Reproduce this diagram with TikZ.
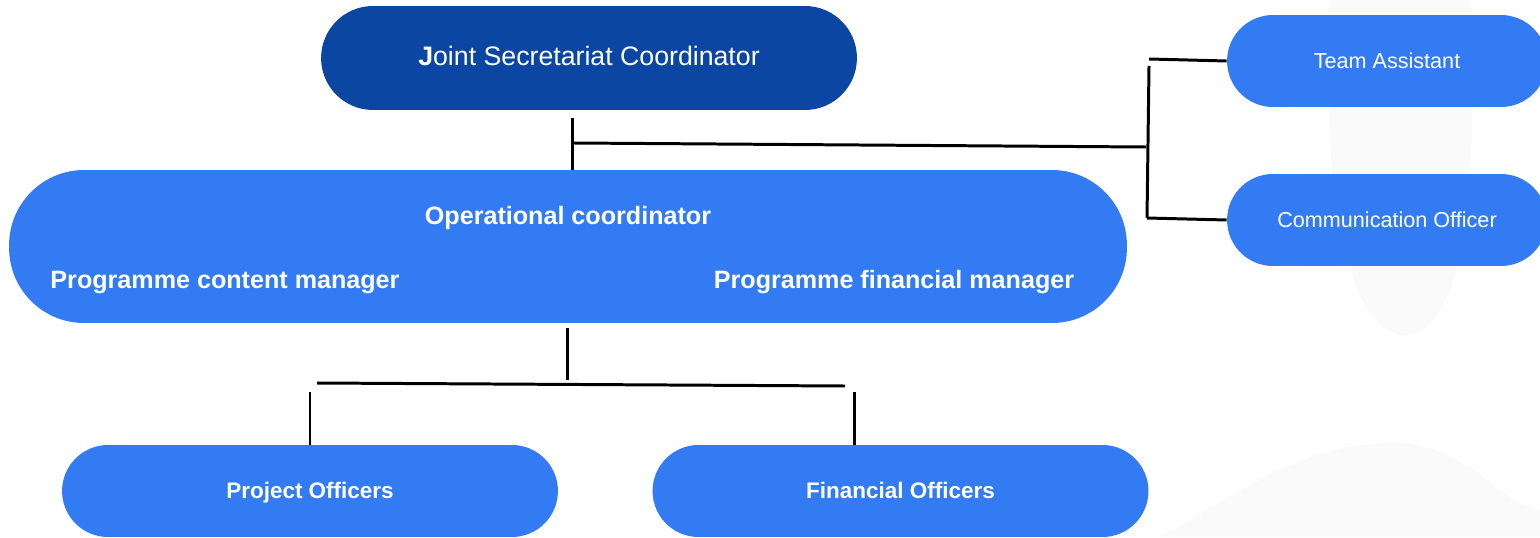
\documentclass[tikz,border=0pt]{standalone}
\usepackage{fontspec}
\setmainfont{Liberation Sans}
\usetikzlibrary{calc}

\definecolor{darkblue}{HTML}{0B46A3}
\definecolor{lightblue}{HTML}{337BF2}
\definecolor{faint}{HTML}{FBFAFA}

\tikzset{
	pill/.style={fill=lightblue, text=white, inner sep=0pt, text height=1.6ex, text depth=0pt},
	link/.style={line width=1.7pt, black},
	lbl/.style={text=white, font=\bfseries\fontsize{14.3}{16}\selectfont, text height=1.5ex, text depth=0.4ex},
}

\begin{document}
\begin{tikzpicture}[x=0.02cm, y=-0.02cm]
	\useasboundingbox (0,0) rectangle (1540,537);
	%\draw[opacity=0.1] (0,0) grid[step=100] (1540,537);

	% faint background blobs
	\fill[faint] (1160,537) .. controls (1230,500) and (1300,440) .. (1400,443)
		.. controls (1470,446) and (1500,505) .. (1540,510) -- (1540,537) -- cycle;
	\fill[faint] (1330,0) .. controls (1320,200) and (1350,335) .. (1405,335)
		.. controls (1460,335) and (1480,200) .. (1470,0) -- cycle;

	%%%%     BOXES     %%%%

	% top
	\node[pill, fill=darkblue, minimum width=10.72cm, minimum height=2.08cm,
		rounded corners=1.04cm, font=\fontsize{15.2}{17}\selectfont] (jsc) at (589,58)
		{\textbf{J}oint Secretariat Coordinator};

	% middle
	\node[pill, minimum width=22.36cm, minimum height=3.06cm, rounded corners=1.5cm]
		(oper) at (568,246.5) {};
	\node[lbl] (opco) at (568,219) {Operational coordinator};
	\node[lbl] (pcm) at (225,283) {Programme content manager};
	\node[lbl] (pfm) at (894,283) {Programme financial manager};

	% right side
	\node[pill, minimum width=6.4cm, minimum height=1.84cm, rounded corners=0.92cm,
		font=\fontsize{12.3}{14}\selectfont] (team) at (1387,61) {Team Assistant};
	\node[pill, minimum width=6.4cm, minimum height=1.84cm, rounded corners=0.92cm,
		font=\fontsize{12.3}{14}\selectfont] (comm) at (1387,220) {Communication Officer};

	% bottom
	\node[pill, minimum width=9.92cm, minimum height=1.84cm, rounded corners=0.92cm,
		font=\bfseries\fontsize{12.8}{14}\selectfont] (proj) at (310,491) {Project Officers};
	\node[pill, minimum width=9.92cm, minimum height=1.84cm, rounded corners=0.92cm,
		font=\bfseries\fontsize{12.8}{14}\selectfont] (fin) at (900.5,491) {Financial Officers};

	%%%%     LINKS     %%%%

	% junction points
	\coordinate (t1) at (572,118);
	\coordinate (t2) at (574,143);
	\coordinate (r1) at (1146,147);
	\coordinate (r2) at (1149,66);
	\coordinate (r3) at (1147,218);
	\coordinate (r4) at (1149,59);
	\coordinate (b1) at (567,328);
	\coordinate (b2) at (567,380);
	\coordinate (b3) at (317,383);
	\coordinate (b4) at (845,386);
	\coordinate (b5) at (310,392);
	\coordinate (b6) at (854,392);

	\draw[link] (t1) -- (t1 |- oper.north);
	\draw[link] (t2) -- (r1);
	\draw[link] (r2) -- (r3);
	\draw[link] (r4) -- (team.west);
	\draw[link] (r3) -- (comm.west);

	\draw[link] (b1) -- (b2);
	\draw[link] (b3) -- (b4);
	\draw[link] (b5) -- (b5 |- proj.north);
	\draw[link] (b6) -- (b6 |- fin.north);

\end{tikzpicture}
\end{document}
